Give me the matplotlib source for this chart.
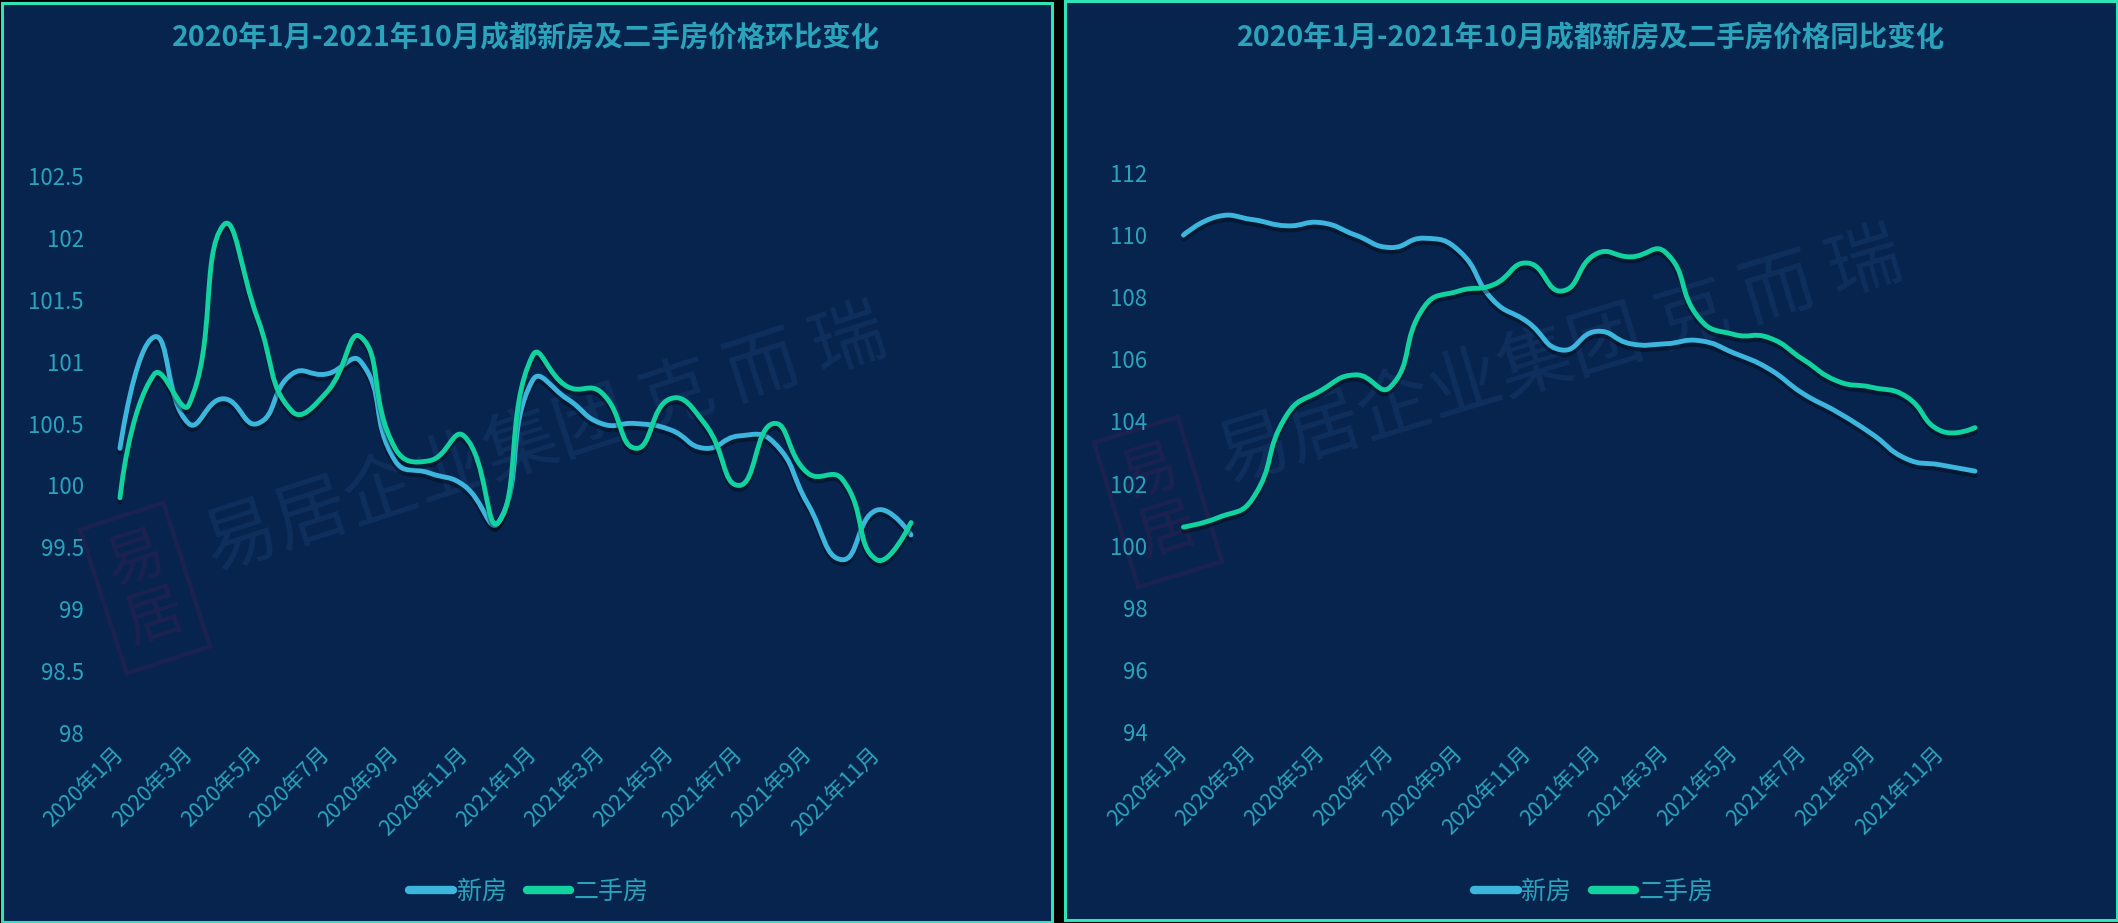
import numpy as np
import matplotlib
matplotlib.use("Agg")
import matplotlib.pyplot as plt
from matplotlib.path import Path
from matplotlib.patches import PathPatch, Rectangle
from matplotlib.lines import Line2D
import matplotlib.patheffects as pe

plt.rcParams['font.family'] = ['Noto Sans CJK SC', 'DejaVu Sans']

# ---- data ----
months = ['2020年1月', '2020年2月', '2020年3月', '2020年4月', '2020年5月', '2020年6月',
          '2020年7月', '2020年8月', '2020年9月', '2020年10月', '2020年11月', '2020年12月',
          '2021年1月', '2021年2月', '2021年3月', '2021年4月', '2021年5月', '2021年6月',
          '2021年7月', '2021年8月', '2021年9月', '2021年10月', '2021年11月', '2021年12月']

# 环比
mom_new = [100.3, 101.2, 100.5, 100.7, 100.5, 100.9, 100.9, 101.0, 100.2, 100.1, 100.0, 99.7,
           100.85, 100.7, 100.5, 100.5, 100.45, 100.3, 100.4, 100.35, 99.85, 99.4, 99.8, 99.6]
mom_second = [99.9, 100.9, 100.65, 102.1, 101.35, 100.6, 100.75, 101.2, 100.3, 100.2, 100.4, 99.7,
              101.05, 100.8, 100.75, 100.3, 100.7, 100.5, 100.0, 100.5, 100.1, 100.05, 99.4, 99.7]

# 同比
yoy_new = [110.0, 110.6, 110.5, 110.3, 110.4, 110.0, 109.6, 109.9, 109.5, 107.9, 107.2, 106.3,
           106.9, 106.5, 106.5, 106.6, 106.2, 105.7, 104.9, 104.3, 103.6, 102.8, 102.6, 102.4]
yoy_second = [100.6, 100.9, 101.5, 104.2, 105.0, 105.5, 105.1, 107.7, 108.2, 108.4, 109.1, 108.2,
              109.4, 109.3, 109.45, 107.3, 106.8, 106.7, 106.0, 105.3, 105.1, 104.8, 103.7, 103.8]

series_names = ['新房', '二手房']
titles = ['2020年1月-2021年10月成都新房及二手房价格环比变化',
          '2020年1月-2021年10月成都新房及二手房价格同比变化']

# ---- style ----
W, H = 2118, 923
BG = '#07244f'
EDGE = '#2fe3b6'
TXT = '#2aa3bb'
BLUE = '#3db6dd'
GREEN = '#12d39f'
WM = '#17396b'


def fx(px):
    return px / W


def fy(py):
    return 1 - py / H


def smooth_path(xs, ys, sx, sy, k=0.5):
    # echarts-like bezier smoothing through the data points
    p = np.column_stack([np.asarray(xs, float) * sx, np.asarray(ys, float) * sy])
    n = len(p)
    cp_prev = p.copy()
    cp_next = p.copy()
    for i in range(1, n - 1):
        v = (p[i + 1] - p[i - 1]) * k
        d0 = np.hypot(*(p[i] - p[i - 1]))
        d1 = np.hypot(*(p[i + 1] - p[i]))
        r = d1 / (d0 + d1)
        cp_prev[i] = p[i] - v * (1 - r)
        cp_next[i] = p[i] + v * r
    verts = [p[0]]
    codes = [Path.MOVETO]
    for i in range(n - 1):
        verts += [cp_next[i], cp_prev[i + 1], p[i + 1]]
        codes += [Path.CURVE4] * 3
    verts = np.array(verts) / [sx, sy]
    return Path(verts, codes)


fig = plt.figure(figsize=(W / 100, H / 100), dpi=100, facecolor='black')

# panel frames
fig.patches.append(Rectangle((fx(1.5), fy(921.5)), fx(1050), 919 / H, transform=fig.transFigure,
                             facecolor=BG, edgecolor=EDGE, linewidth=2.2, zorder=-5))
fig.patches.append(Rectangle((fx(1064.5), fy(919.5)), fx(1052), 919 / H, transform=fig.transFigure,
                             facecolor=BG, edgecolor=EDGE, linewidth=2.2, zorder=-5))

panels = [
    dict(box=(120, 911, 176, 733), ylim=(98, 102.5), yticks=np.arange(98, 102.51, 0.5),
         data=(mom_new, mom_second), title=titles[0], cx=526,
         wm=(545, 440, 18), stamp=(145, 588)),
    dict(box=(1183.5, 1975, 173, 732), ylim=(94, 112), yticks=np.arange(94, 112.1, 2),
         data=(yoy_new, yoy_second), title=titles[1], cx=1591,
         wm=(1560, 358, 17), stamp=(1158, 502)),
]

for pnl in panels:
    # watermark (under the lines)
    wx, wy, ang = pnl['wm']
    fig.text(fx(wx), fy(wy), '易居企业集团 克 而 瑞', ha='center', va='center',
             rotation=ang, fontsize=53, color=WM, alpha=0.5, zorder=-1)
    sxp, syp = pnl['stamp']
    fig.text(fx(sxp), fy(syp), '易\n居', ha='center', va='center', rotation=ang,
             fontsize=42, color='#2d2152', alpha=0.55, linespacing=1.0, zorder=-1,
             bbox=dict(boxstyle='square,pad=0.25', facecolor='none', edgecolor='#2d2152',
                       linewidth=3, alpha=0.55))

    x0, x1, y0, y1 = pnl['box']
    ax = fig.add_axes([fx(x0), fy(y1), fx(x1 - x0), (y1 - y0) / H])
    ax.set_zorder(2)
    ax.set_facecolor('none')
    for s in ax.spines.values():
        s.set_visible(False)
    ax.set_xlim(0, len(months) - 1)
    ax.set_ylim(*pnl['ylim'])

    sx = (x1 - x0) / (len(months) - 1)
    sy = (y1 - y0) / (pnl['ylim'][1] - pnl['ylim'][0])
    xs = np.arange(len(months))
    for vals, col in zip(pnl['data'], [BLUE, GREEN]):
        path = smooth_path(xs, vals, sx, sy)
        patch = PathPatch(path, facecolor='none', edgecolor=col, linewidth=3.5,
                          capstyle='round', joinstyle='round', zorder=3, clip_on=False)
        patch.set_path_effects([pe.SimpleLineShadow(offset=(0, -3), shadow_color='black', alpha=0.35),
                                pe.Normal()])
        ax.add_patch(patch)

    ax.set_yticks(pnl['yticks'])
    ax.set_yticklabels([('%g' % v) for v in pnl['yticks']])
    ax.set_xticks(xs[::2])
    ax.set_xticklabels(months[::2], rotation=45, ha='right', va='center', rotation_mode='anchor')
    ax.tick_params(axis='y', length=0, pad=26, labelsize=16, labelcolor=TXT)
    ax.tick_params(axis='x', length=0, pad=13, labelsize=15.5, labelcolor=TXT)

    fig.text(fx(pnl['cx']), fy(38), pnl['title'], ha='center', va='center',
             fontsize=20.5, fontweight='bold', color=TXT)

    handles = [Line2D([], [], color=c, linewidth=6, solid_capstyle='round') for c in [BLUE, GREEN]]
    ax.legend(handles, series_names, loc='center', ncol=2, frameon=False,
              bbox_to_anchor=(fx(pnl['cx'] + 3), fy(892)), bbox_transform=fig.transFigure,
              fontsize=18, handlelength=1.75, handletextpad=0.15, columnspacing=0.8,
              labelcolor=TXT)

fig.savefig('out.png', dpi=100, facecolor='black')
